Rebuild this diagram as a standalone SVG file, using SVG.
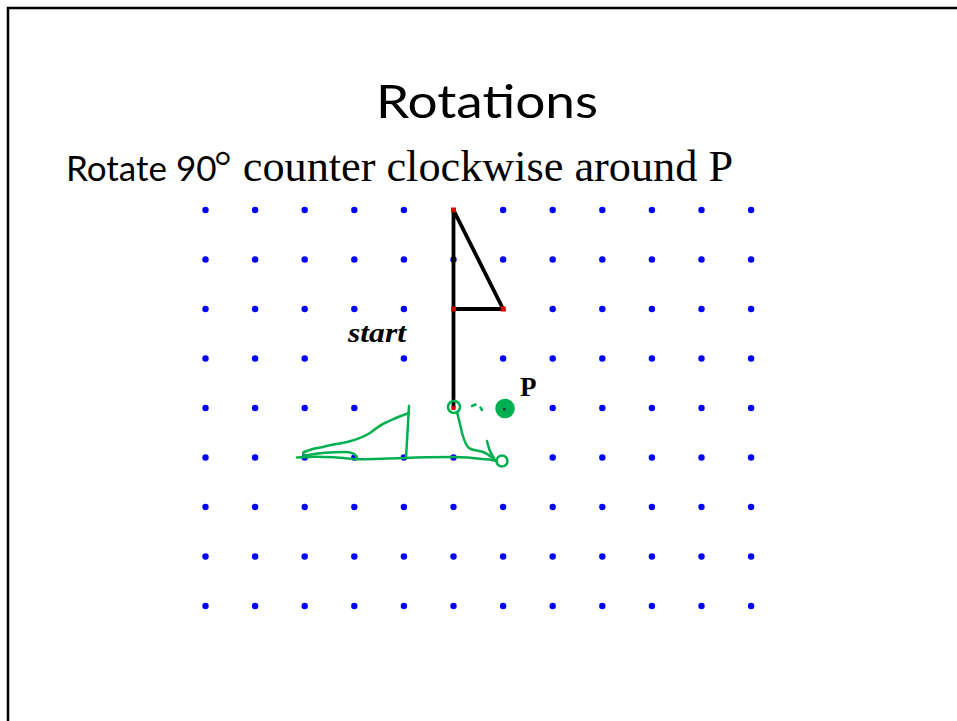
<svg xmlns="http://www.w3.org/2000/svg" width="957" height="721" viewBox="0 0 957 721">
<style>
.dot{fill:#0000ff}
.ink{fill:none;stroke:#00b050;stroke-width:2.5;stroke-linecap:round;stroke-linejoin:round}
.edge{stroke:#000;stroke-width:3.8;stroke-linecap:round;fill:none}
.vtx{fill:#e00000}
</style>
<defs>
<circle id="d" r="3.2" class="dot"/>
</defs>
<rect width="957" height="721" fill="#fff"/>
<path d="M8,721 V8 H957" fill="none" stroke="#000" stroke-width="2.5"/>
<g id="title">
<text x="487" y="118" font-family="Lato, 'Open Sans', sans-serif" font-size="46" text-anchor="middle" textLength="222" lengthAdjust="spacingAndGlyphs">Rotations</text>
</g>
<g id="subtitle">
<text x="66" y="181" font-family="Lato, 'Open Sans', sans-serif" font-size="35">Rotate 90</text>
<text x="214" y="181" font-family="'Liberation Serif', serif" font-size="44" textLength="519" lengthAdjust="spacingAndGlyphs">° counter clockwise around P</text>
</g>
<g id="grid">
<g id="row1"><use href="#d" x="205.5" y="210"/><use href="#d" x="255.1" y="210"/><use href="#d" x="304.7" y="210"/><use href="#d" x="354.3" y="210"/><use href="#d" x="403.9" y="210"/><use href="#d" x="503.1" y="210"/><use href="#d" x="552.7" y="210"/><use href="#d" x="602.3" y="210"/><use href="#d" x="651.9" y="210"/><use href="#d" x="701.5" y="210"/><use href="#d" x="751.1" y="210"/></g>
<g id="row2"><use href="#d" x="205.5" y="259.5"/><use href="#d" x="255.1" y="259.5"/><use href="#d" x="304.7" y="259.5"/><use href="#d" x="354.3" y="259.5"/><use href="#d" x="403.9" y="259.5"/><use href="#d" x="453.5" y="259.5"/><use href="#d" x="503.1" y="259.5"/><use href="#d" x="552.7" y="259.5"/><use href="#d" x="602.3" y="259.5"/><use href="#d" x="651.9" y="259.5"/><use href="#d" x="701.5" y="259.5"/><use href="#d" x="751.1" y="259.5"/></g>
<g id="row3"><use href="#d" x="205.5" y="309"/><use href="#d" x="255.1" y="309"/><use href="#d" x="304.7" y="309"/><use href="#d" x="354.3" y="309"/><use href="#d" x="403.9" y="309"/><use href="#d" x="552.7" y="309"/><use href="#d" x="602.3" y="309"/><use href="#d" x="651.9" y="309"/><use href="#d" x="701.5" y="309"/><use href="#d" x="751.1" y="309"/></g>
<g id="row4"><use href="#d" x="205.5" y="358.5"/><use href="#d" x="255.1" y="358.5"/><use href="#d" x="304.7" y="358.5"/><use href="#d" x="403.9" y="358.5"/><use href="#d" x="503.1" y="358.5"/><use href="#d" x="552.7" y="358.5"/><use href="#d" x="602.3" y="358.5"/><use href="#d" x="651.9" y="358.5"/><use href="#d" x="701.5" y="358.5"/><use href="#d" x="751.1" y="358.5"/></g>
<g id="row5"><use href="#d" x="205.5" y="408"/><use href="#d" x="255.1" y="408"/><use href="#d" x="304.7" y="408"/><use href="#d" x="354.3" y="408"/><use href="#d" x="552.7" y="408"/><use href="#d" x="602.3" y="408"/><use href="#d" x="651.9" y="408"/><use href="#d" x="701.5" y="408"/><use href="#d" x="751.1" y="408"/></g>
<g id="row6"><use href="#d" x="205.5" y="457.5"/><use href="#d" x="255.1" y="457.5"/><use href="#d" x="304.7" y="457.5"/><use href="#d" x="354.3" y="457.5"/><use href="#d" x="403.9" y="457.5"/><use href="#d" x="453.5" y="457.5"/><use href="#d" x="552.7" y="457.5"/><use href="#d" x="602.3" y="457.5"/><use href="#d" x="651.9" y="457.5"/><use href="#d" x="701.5" y="457.5"/><use href="#d" x="751.1" y="457.5"/></g>
<g id="row7"><use href="#d" x="205.5" y="507"/><use href="#d" x="255.1" y="507"/><use href="#d" x="304.7" y="507"/><use href="#d" x="354.3" y="507"/><use href="#d" x="403.9" y="507"/><use href="#d" x="453.5" y="507"/><use href="#d" x="503.1" y="507"/><use href="#d" x="552.7" y="507"/><use href="#d" x="602.3" y="507"/><use href="#d" x="651.9" y="507"/><use href="#d" x="701.5" y="507"/><use href="#d" x="751.1" y="507"/></g>
<g id="row8"><use href="#d" x="205.5" y="556.5"/><use href="#d" x="255.1" y="556.5"/><use href="#d" x="304.7" y="556.5"/><use href="#d" x="354.3" y="556.5"/><use href="#d" x="403.9" y="556.5"/><use href="#d" x="453.5" y="556.5"/><use href="#d" x="503.1" y="556.5"/><use href="#d" x="552.7" y="556.5"/><use href="#d" x="602.3" y="556.5"/><use href="#d" x="651.9" y="556.5"/><use href="#d" x="701.5" y="556.5"/><use href="#d" x="751.1" y="556.5"/></g>
<g id="row9"><use href="#d" x="205.5" y="606"/><use href="#d" x="255.1" y="606"/><use href="#d" x="304.7" y="606"/><use href="#d" x="354.3" y="606"/><use href="#d" x="403.9" y="606"/><use href="#d" x="453.5" y="606"/><use href="#d" x="503.1" y="606"/><use href="#d" x="552.7" y="606"/><use href="#d" x="602.3" y="606"/><use href="#d" x="651.9" y="606"/><use href="#d" x="701.5" y="606"/><use href="#d" x="751.1" y="606"/></g>
</g>
<g id="flag">
<path class="edge" d="M453.5,210 V408 M453.5,210 L503.1,309 H453.5"/>
<rect class="vtx" x="451" y="207.5" width="5" height="5"/>
<rect class="vtx" x="451" y="306.5" width="5" height="5"/>
<rect class="vtx" x="500.6" y="306.5" width="5" height="5"/>
<rect class="vtx" x="451.5" y="406" width="4" height="4"/>
</g>
<g id="labels">
<text x="348" y="342" font-family="'Liberation Serif', serif" font-style="italic" font-weight="bold" font-size="27" textLength="58" lengthAdjust="spacingAndGlyphs">start</text>
<text x="520" y="396" font-family="'Liberation Serif', serif" font-weight="bold" font-size="27">P</text>
</g>
<g id="ink">
<circle class="ink" cx="454" cy="407" r="6"/>
<path class="ink" d="M472,406 L475.5,404.5 M480.5,407.5 L482,410"/>
<circle cx="505" cy="408.5" r="8.5" fill="#00b050"/>
<circle cx="505" cy="408.5" r="8.5" class="ink"/>
<rect x="503" y="408" width="2.5" height="2.5" fill="#333"/>
<path class="ink" d="M457,412 C459,420 461,428 462,433 C464,440 466,446 469,448 C473,451 478,450 483,452 C487,453 490,456 495,460"/>
<path class="ink" d="M487,441 C488,445 489,449 490,451 C491,454 493,456 494,458"/>
<circle class="ink" cx="502" cy="461" r="5.5" stroke-width="3.2"/>
<path class="ink" d="M297,457.5 C315,456 335,457 353,459 C375,460 390,458 405,458 C425,457 440,457 453,457 C465,457 475,458 482,459 C488,459 493,460 497,461"/>
<path class="ink" d="M409,406 L406,458"/>
<path class="ink" d="M409,413 C400,416 393,419 387,422 C380,425 375,429 370,433 C362,438 355,440 347,442 C338,444 330,445 323,447 C315,448 309,450 304,452 C302,454 304,456 308,455 C318,453 330,452 345,452 C352,452 356,454 357,458"/>
</g>
</svg>
